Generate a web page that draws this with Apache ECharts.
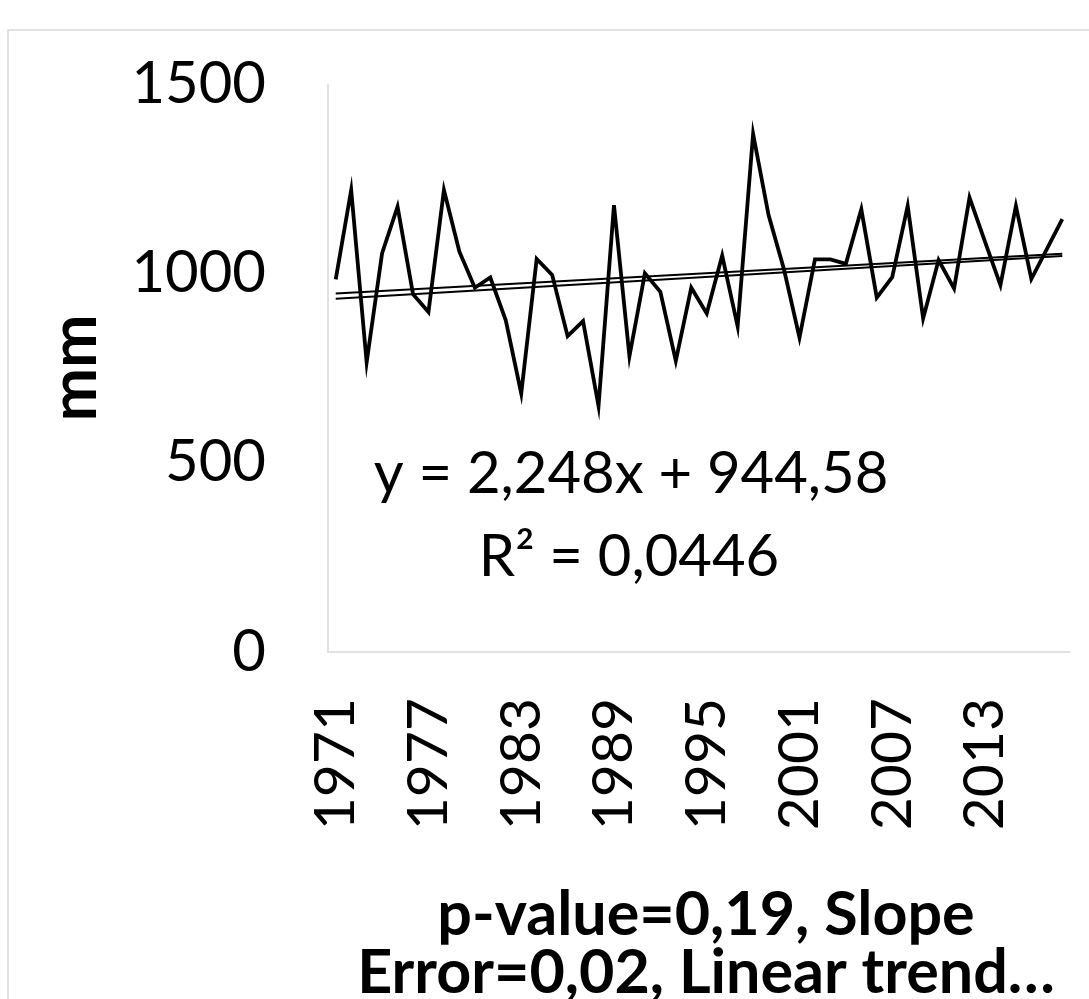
<!DOCTYPE html>
<html>
<head>
<meta charset="utf-8">
<script src="https://cdn.jsdelivr.net/npm/echarts@6/dist/echarts.min.js"></script>
<style>
html,body{margin:0;padding:0;background:#fff;}
#chart{width:1089px;height:999px;}
</style>
</head>
<body>
<div id="chart"></div>
<script>
var years = ['1971','1972','1973','1974','1975','1976','1977','1978','1979','1980',
  '1981','1982','1983','1984','1985','1986','1987','1988','1989','1990',
  '1991','1992','1993','1994','1995','1996','1997','1998','1999','2000',
  '2001','2002','2003','2004','2005','2006','2007','2008','2009','2010',
  '2011','2012','2013','2014','2015','2016','2017','2018'];
var rainfall = [984,1220,765,1053,1176,945,898,1220,1057,962,
  989,876,683,1038,996,834,874,650,1180,781,
  1000,951,769,962,894,1047,860,1368,1154,1010,
  830,1037,1037,1025,1169,936,990,1178,881,1035,
  960,1200,1084,969,1178,985,1064,1143];
// trend line end values (first year, last year)
var trendLinear = [947, 1052];
var trendSecond = [933, 1046];
var yTicks = [0, 500, 1000, 1500];
var equationText = 'y = 2,248x + 944,58';
var r2Text = 'R² = 0,0446';
var xTitle = 'p-value=0,19, Slope\nError=0,02, Linear trend…';
var yTitle = 'mm';

var FONT = 'Lato, "Open Sans", "Liberation Sans", sans-serif';
var chart = echarts.init(document.getElementById('chart'));
chart.setOption({
  animation: false,
  backgroundColor: '#fff',
  grid: {left: 328, right: 19, top: 84, bottom: 347, containLabel: false, outerBoundsMode: 'none'},
  xAxis: {
    type: 'category',
    data: years,
    boundaryGap: true,
    axisLine: {show: true, lineStyle: {color: '#d9d9d9', width: 1.5}},
    axisTick: {show: false},
    axisLabel: {interval: 5, rotate: 90, margin: 46, color: '#000', fontFamily: FONT, fontSize: 57},
    name: xTitle,
    nameLocation: 'middle',
    nameGap: 234,
    nameTextStyle: {fontFamily: FONT, fontWeight: 'bold', fontSize: 61, color: '#000', lineHeight: 58, padding: [0, 0, 0, 14]}
  },
  yAxis: {
    type: 'value',
    min: yTicks[0],
    max: yTicks[yTicks.length - 1],
    interval: 500,
    splitLine: {show: false},
    axisLine: {show: true, lineStyle: {color: '#d9d9d9', width: 1.5}},
    axisTick: {show: false},
    axisLabel: {margin: 62, color: '#000', fontFamily: FONT, fontSize: 58, formatter: function (v) { return String(v); }},
    name: yTitle,
    nameLocation: 'middle',
    nameGap: 221,
    nameRotate: 90,
    nameTextStyle: {fontFamily: FONT, fontWeight: 'bold', fontSize: 64, color: '#000'}
  },
  series: [
    {
      type: 'line',
      data: [[years[0], trendLinear[0]], [years[years.length - 1], trendLinear[1]]],
      symbol: 'none',
      lineStyle: {color: '#000', width: 2},
      z: 3
    },
    {
      type: 'line',
      data: [[years[0], trendSecond[0]], [years[years.length - 1], trendSecond[1]]],
      symbol: 'none',
      lineStyle: {color: '#000', width: 2},
      z: 3
    },
    {
      type: 'line',
      data: rainfall,
      symbol: 'none',
      lineStyle: {color: '#000', width: 3.8, join: 'miter'},
      z: 4
    }
  ],
  graphic: [
    {type: 'rect', shape: {x: 8, y: 30, width: 1200, height: 1100}, style: {fill: 'none', stroke: '#d9d9d9', lineWidth: 1.5}, silent: true, z: -1},
    {type: 'text', x: 631, y: 474, style: {text: equationText, fontFamily: FONT, fontSize: 58, fill: '#000', textAlign: 'center', textVerticalAlign: 'middle'}},
    {type: 'text', x: 629, y: 557, style: {text: r2Text, fontFamily: FONT, fontSize: 58, fill: '#000', textAlign: 'center', textVerticalAlign: 'middle'}}
  ]
});
</script>
</body>
</html>
